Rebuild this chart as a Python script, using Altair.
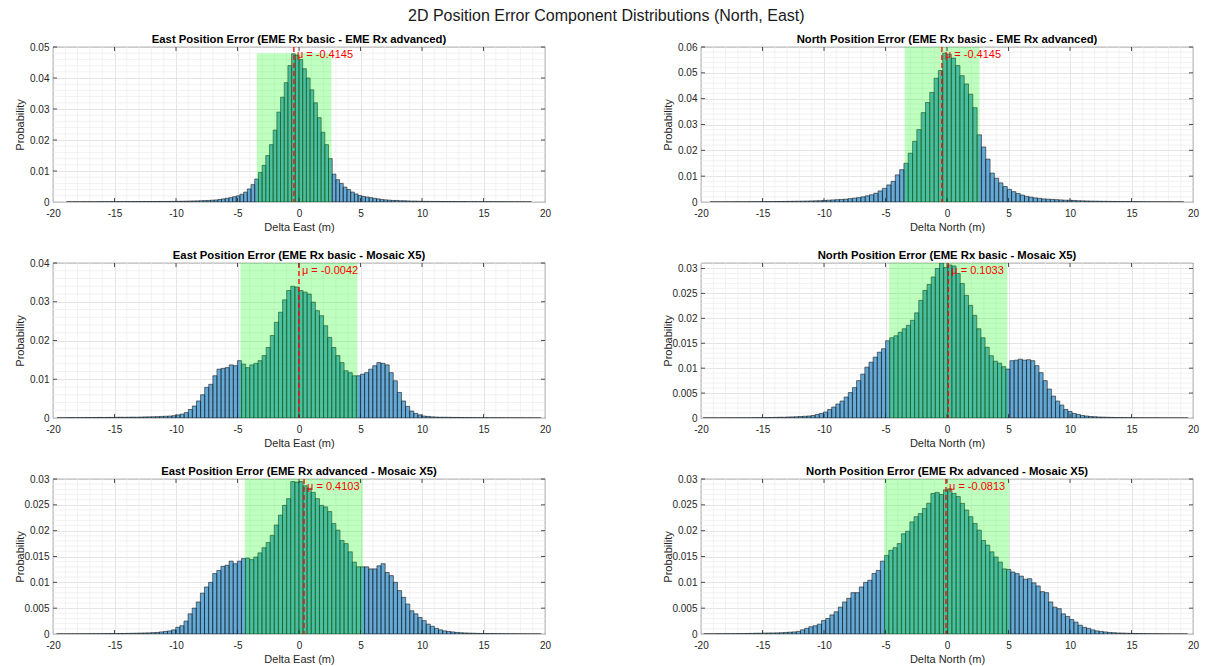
import altair as alt
import pandas as pd
import numpy as np

MAIN_TITLE = "2D Position Error Component Distributions (North, East)"
PANEL_TITLES = [
    "East Position Error (EME Rx basic - EME Rx advanced)",
    "North Position Error (EME Rx basic - EME Rx advanced)",
    "East Position Error (EME Rx basic - Mosaic X5)",
    "North Position Error (EME Rx basic - Mosaic X5)",
    "East Position Error (EME Rx advanced - Mosaic X5)",
    "North Position Error (EME Rx advanced - Mosaic X5)",
]
X_TITLES = ["Delta East (m)", "Delta North (m)", "Delta East (m)",
            "Delta North (m)", "Delta East (m)", "Delta North (m)"]

# histogram bins: first edge, bin width, probabilities
BIN_START = [-18.9, -19.25, -19.667, -19.82, -19.70, -19.78]
BIN_WIDTH = [0.3, 0.35, 0.3333, 0.337, 0.3338, 0.342]

P1 = [0.00005, 0.00004, 0.00006, 0.00005, 0.00007, 0.00006, 0.00008, 0.00007, 0.00009, 0.0001,
      0.00009, 0.0001, 0.00011, 0.0001, 0.00012, 0.00011, 0.00013, 0.00012, 0.00014, 0.00013,
      0.00015, 0.00014, 0.00016, 0.00015, 0.00017, 0.00018, 0.00017, 0.00019, 0.0002, 0.0002,
      0.00022, 0.00025, 0.00027, 0.0003, 0.00033, 0.00036, 0.0004, 0.00045, 0.0005, 0.00058,
      0.00066, 0.0008, 0.0010, 0.0012, 0.0014, 0.0017,
      0.0020, 0.0025, 0.0032, 0.0042, 0.0056, 0.0074,
      0.0095, 0.0118, 0.0150, 0.0185, 0.0232, 0.0290, 0.0338, 0.0385, 0.0440, 0.0478,
      0.0474, 0.0460, 0.0430, 0.0400, 0.0362, 0.0320, 0.0272, 0.0225, 0.0185, 0.0140, 0.0090,
      0.0072, 0.0060, 0.0048, 0.0040, 0.0032, 0.0026, 0.0021,
      0.0018, 0.0016, 0.0014, 0.0012, 0.0010, 0.0008, 0.0007, 0.0006, 0.0005, 0.0005,
      0.0004, 0.0004, 0.00035, 0.0003, 0.0003, 0.00025,
      0.00022, 0.0002, 0.0002, 0.00018, 0.00019, 0.00017, 0.00016, 0.00015, 0.00016, 0.00014,
      0.00013, 0.00014, 0.00012, 0.00011, 0.00012, 0.0001, 0.0001, 0.00009, 0.0001, 0.00008,
      0.00009, 0.00007, 0.00008, 0.00006, 0.00007, 0.00005, 0.00006, 0.00005, 0.00004, 0.00004]

P2 = [0.00004, 0.00005, 0.00004, 0.00006, 0.00005, 0.00007, 0.00008, 0.00007, 0.00009, 0.0001,
      0.00012, 0.00011, 0.00013, 0.00015, 0.00016, 0.00018, 0.0002, 0.00022, 0.00025, 0.00028,
      0.0003, 0.00033, 0.00036, 0.0004, 0.00045,
      0.0005, 0.0006, 0.0007, 0.0008, 0.0009, 0.0010, 0.0011, 0.0013, 0.0015, 0.0017,
      0.0020, 0.0024, 0.0028, 0.0034, 0.0043, 0.0053, 0.0066, 0.0080, 0.0105, 0.0125,
      0.0150, 0.0189, 0.0235, 0.0280, 0.0346, 0.0385, 0.0424, 0.0479, 0.0509,
      0.0576, 0.0572, 0.0557, 0.0528, 0.0489, 0.0457, 0.0417, 0.0365, 0.0260, 0.0213,
      0.0166, 0.0112, 0.0092, 0.0074, 0.0060, 0.0049, 0.0040, 0.0033, 0.0027, 0.0022,
      0.0019, 0.0016, 0.0014, 0.0012, 0.0011, 0.0010, 0.0009, 0.0008, 0.0007, 0.0007, 0.0006,
      0.0005, 0.00045, 0.0004, 0.00036, 0.00033, 0.0003, 0.00027, 0.00025, 0.00022, 0.0002,
      0.00018, 0.00016, 0.00015, 0.00013, 0.00012, 0.0001, 0.00009, 0.00008, 0.00007, 0.00006,
      0.00006, 0.00005, 0.00004, 0.00004, 0.00003]

P3 = [0.00005, 0.00005, 0.00008, 0.0001, 0.00008, 0.0001, 0.0001, 0.00012, 0.0001, 0.00012,
      0.00015, 0.00012, 0.00015, 0.00015, 0.00018, 0.0002, 0.00018, 0.0002, 0.00022, 0.0002,
      0.00025, 0.00028, 0.0003, 0.00032, 0.00035, 0.0004, 0.00045, 0.0005,
      0.0006, 0.0008, 0.0010, 0.0014, 0.0022, 0.0031, 0.0044, 0.0060, 0.0079, 0.0087,
      0.0109, 0.0126, 0.0128, 0.0130, 0.0137, 0.0135, 0.0148, 0.0139, 0.0130, 0.0137,
      0.0141, 0.0148, 0.0161, 0.0182, 0.0213, 0.0247, 0.0273, 0.0305, 0.0329, 0.0340,
      0.0338, 0.0329, 0.0325, 0.0320, 0.0299, 0.0277, 0.0264, 0.0238, 0.0208, 0.0182,
      0.0161, 0.0143, 0.0122, 0.0117, 0.0109, 0.0109, 0.0113, 0.0117, 0.0126, 0.0135,
      0.0143, 0.0141, 0.0137, 0.0117, 0.0096, 0.0066, 0.0044, 0.0030, 0.0018, 0.0012,
      0.0008, 0.0005, 0.0004,
      0.0003, 0.00025, 0.0002, 0.0002, 0.00018, 0.00015, 0.00015, 0.00012, 0.0001, 0.0001,
      0.0001, 0.00008, 0.00008, 0.00008, 0.00006, 0.00006, 0.00005, 0.00005, 0.00005, 0.00004,
      0.00004, 0.00004, 0.00003, 0.00003, 0.00003, 0.00002, 0.00002]

P4 = [0.00002, 0.00002, 0.00003, 0.00002, 0.00003, 0.00003, 0.00004, 0.00003, 0.00004, 0.00005,
      0.00004, 0.00005, 0.00006, 0.00006, 0.00008,
      0.0001, 0.0001, 0.00012, 0.00015, 0.00015, 0.0002, 0.00022, 0.00025, 0.0003, 0.00035,
      0.0004, 0.0005, 0.0007, 0.0009, 0.0012,
      0.0017, 0.0022, 0.0028, 0.0034, 0.0042, 0.0051, 0.0061, 0.0075, 0.0088, 0.0102,
      0.0112, 0.0122, 0.0132, 0.0139, 0.0155, 0.0161, 0.0165, 0.0172, 0.0179, 0.0186,
      0.0196, 0.0211, 0.0236, 0.0256, 0.0268, 0.0283, 0.0300, 0.0311, 0.0302, 0.0307,
      0.0305, 0.0290, 0.0270, 0.0246, 0.0226, 0.0206, 0.0179, 0.0161, 0.0142, 0.0125,
      0.0114, 0.0110, 0.0103, 0.0098, 0.0115, 0.0116, 0.0118, 0.0116, 0.0117, 0.0115,
      0.0105, 0.0091, 0.0075, 0.0058, 0.0044, 0.0034, 0.0026, 0.0017, 0.0013, 0.0009, 0.0007,
      0.0005, 0.0004, 0.0003, 0.00025, 0.0002, 0.00018, 0.00015, 0.00012, 0.0001, 0.00008,
      0.00007, 0.00006, 0.00005, 0.00005, 0.00004, 0.00004, 0.00003, 0.00003, 0.00003, 0.00002,
      0.00002, 0.00002, 0.00002, 0.00001, 0.00001, 0.00001]

P5 = [0.00002, 0.00002, 0.00002, 0.00003, 0.00003, 0.00003, 0.00004, 0.00004, 0.00005, 0.00005,
      0.00006, 0.00006, 0.00007, 0.00008, 0.00008, 0.0001, 0.0001, 0.00012, 0.00014, 0.00016,
      0.00018, 0.0002, 0.00022, 0.00026, 0.0003, 0.0004, 0.0005, 0.0006,
      0.0008, 0.0013, 0.0016, 0.0025, 0.0039, 0.0050, 0.0062, 0.0079, 0.0091, 0.0100,
      0.0117, 0.0123, 0.0131, 0.0133, 0.0141, 0.0136, 0.0141, 0.0146, 0.0147, 0.0144,
      0.0149, 0.0157, 0.0167, 0.0177, 0.0191, 0.0211, 0.0230, 0.0249, 0.0262, 0.0295,
      0.0294, 0.0295, 0.0287, 0.0282, 0.0274, 0.0262, 0.0249, 0.0246, 0.0237, 0.0214,
      0.0201, 0.0181, 0.0175, 0.0159, 0.0139, 0.0130, 0.0130, 0.0130, 0.0126, 0.0126,
      0.0132, 0.0136, 0.0119, 0.0113, 0.0100, 0.0084, 0.0071, 0.0058, 0.0045, 0.0039,
      0.0032, 0.0026, 0.0019, 0.0015, 0.0011, 0.0008, 0.0006, 0.0005, 0.0004,
      0.0003, 0.00025, 0.0002, 0.00018, 0.00015, 0.00012, 0.0001, 0.00009, 0.00008, 0.00007,
      0.00006, 0.00005, 0.00005, 0.00004, 0.00004, 0.00003, 0.00003, 0.00002, 0.00002, 0.00002,
      0.00001]

P6 = [0.00002, 0.00003, 0.00003, 0.00005, 0.00004, 0.00006, 0.00005, 0.00006, 0.00008, 0.00007,
      0.0001, 0.00012, 0.00015, 0.00015, 0.00018, 0.0002, 0.0002, 0.00022, 0.00025, 0.0003,
      0.00035, 0.0004,
      0.0005, 0.0008, 0.0011, 0.0014, 0.0016, 0.0019, 0.0026, 0.0030, 0.0037, 0.0043,
      0.0052, 0.0062, 0.0069, 0.0080, 0.0080, 0.0091, 0.0100, 0.0104, 0.0117, 0.0123,
      0.0141, 0.0152, 0.0162, 0.0167, 0.0175, 0.0194, 0.0199, 0.0217, 0.0227, 0.0233,
      0.0243, 0.0253, 0.0272, 0.0274, 0.0270, 0.0279, 0.0281, 0.0272, 0.0266, 0.0253,
      0.0240, 0.0227, 0.0214, 0.0201, 0.0181, 0.0172, 0.0159, 0.0149, 0.0139, 0.0126,
      0.0125, 0.0120, 0.0117, 0.0112, 0.0106, 0.0107, 0.0099, 0.0093, 0.0082, 0.0080,
      0.0062, 0.0052, 0.0049, 0.0039, 0.0034, 0.0028, 0.0023, 0.0017, 0.0013, 0.0011,
      0.0008, 0.0006, 0.0005,
      0.0004, 0.0003, 0.00025, 0.0002, 0.00018, 0.00015, 0.00012, 0.0001, 0.00009, 0.00008,
      0.00006, 0.00005, 0.00005, 0.00004, 0.00003, 0.00003, 0.00002, 0.00002, 0.00002, 0.00001]

HEIGHTS = [P1, P2, P3, P4, P5, P6]

MEANS = [-0.4145, -0.4145, -0.0042, 0.1033, 0.4103, -0.0813]
MU_TEXT = ["μ = -0.4145", "μ = -0.4145", "μ = -0.0042", "μ = 0.1033", "μ = 0.4103", "μ = -0.0813"]
SHADE_LO = [-3.43, -3.44, -4.76, -4.70, -4.41, -5.11]
SHADE_HI = [2.64, 2.65, 4.76, 4.91, 5.20, 5.05]
SHADE_TOP = [0.048, 0.06, 0.04, 0.0311, 0.03, 0.03]
Y_MAX = [0.05, 0.06, 0.04, 0.0311, 0.03, 0.03]
Y_TICKS = [
    [0, 0.01, 0.02, 0.03, 0.04, 0.05],
    [0, 0.01, 0.02, 0.03, 0.04, 0.05, 0.06],
    [0, 0.01, 0.02, 0.03, 0.04],
    [0, 0.005, 0.01, 0.015, 0.02, 0.025, 0.03],
    [0, 0.005, 0.01, 0.015, 0.02, 0.025, 0.03],
    [0, 0.005, 0.01, 0.015, 0.02, 0.025, 0.03],
]
Y_MINOR = [0.002, 0.002, 0.002, 0.001, 0.001, 0.001]
X_TICKS = [-20, -15, -10, -5, 0, 5, 10, 15, 20]
# panel title offsets (the top tick label of panel 4 sits below the frame)
TITLE_OFFSET = [-3, -3, -3, 1, -3, -3]

W, H = 492, 155
FONT = "Liberation Sans"
AX = "#262626"


def panel(i):
    e0, w, hs = BIN_START[i], BIN_WIDTH[i], HEIGHTS[i]
    n = len(hs)
    bars = pd.DataFrame({
        "lo": [e0 + k * w for k in range(n)],
        "hi": [e0 + (k + 1) * w for k in range(n)],
        "p": hs,
        "z": [0.0] * n,
    })
    xs = alt.Scale(domain=[-20, 20], nice=False, zero=False)
    ys = alt.Scale(domain=[0, Y_MAX[i]], nice=False, zero=False)
    xa = alt.Axis(values=X_TICKS, title=X_TITLES[i], grid=True, ticks=False, domain=False,
                  labelExpr="'' + datum.value", labelPadding=6, titlePadding=3,
                  labelFlush=False)
    ya = alt.Axis(values=Y_TICKS[i], title="Probability", grid=True, ticks=False, domain=False,
                  labelExpr="'' + datum.value", labelPadding=4, titlePadding=4,
                  minExtent=24, maxExtent=24, labelFlush=False)

    def X(f):
        return alt.X(f, type="quantitative", scale=xs, axis=xa)

    def Y(f):
        return alt.Y(f, type="quantitative", scale=ys, axis=ya)

    xminor = [v for v in range(-19, 20) if v % 5 != 0]
    ystep = Y_MINOR[i]
    nmin = int(round(Y_MAX[i] / ystep))
    yminor = [round(k * ystep, 6) for k in range(1, nmin + 1)
              if round(k * ystep, 6) not in Y_TICKS[i] and k * ystep < Y_MAX[i]]

    gx = alt.Chart(pd.DataFrame({"v": xminor})).mark_rule(
        color="#ececec", strokeWidth=0.7).encode(x=X("v"))
    gy = alt.Chart(pd.DataFrame({"v": yminor})).mark_rule(
        color="#ececec", strokeWidth=0.7).encode(y=Y("v"))

    hist = alt.Chart(bars).mark_rect(
        fill="#0072BD", fillOpacity=0.6, stroke="#1a1a1a", strokeWidth=0.6, clip=True
    ).encode(x=X("lo"), x2=alt.X2("hi"), y=Y("p"), y2=alt.Y2("z"))

    mline = alt.Chart(pd.DataFrame({"m": [MEANS[i]]})).mark_rule(
        color="#ff0000", strokeDash=[5, 3], strokeWidth=1.3).encode(x=X("m"))

    shade = alt.Chart(pd.DataFrame({
        "a": [SHADE_LO[i]], "b": [SHADE_HI[i]], "z": [0.0], "t": [SHADE_TOP[i]]
    })).mark_rect(color="#00ff00", opacity=0.25).encode(
        x=X("a"), x2=alt.X2("b"), y=Y("z"), y2=alt.Y2("t"))

    label = alt.Chart(pd.DataFrame({
        "m": [MEANS[i]], "ty": [0.95 * Y_MAX[i]], "s": [MU_TEXT[i]]
    })).mark_text(align="left", baseline="middle", dx=3, color="#ff0000",
                  fontSize=11, font=FONT).encode(x=X("m"), y=Y("ty"), text="s:N")

    tx = pd.DataFrame({"v": X_TICKS[1:-1]})
    ty = pd.DataFrame({"v": Y_TICKS[i][1:]})
    tb = alt.Chart(tx).mark_rule(color=AX, strokeWidth=0.8).encode(
        x=X("v"), y=alt.value(H), y2=alt.value(H - 4))
    tt = alt.Chart(tx).mark_rule(color=AX, strokeWidth=0.8).encode(
        x=X("v"), y=alt.value(0), y2=alt.value(4))
    tl = alt.Chart(ty).mark_rule(color=AX, strokeWidth=0.8).encode(
        y=Y("v"), x=alt.value(0), x2=alt.value(4))
    tr = alt.Chart(ty).mark_rule(color=AX, strokeWidth=0.8).encode(
        y=Y("v"), x=alt.value(W), x2=alt.value(W - 4))

    return alt.layer(gx, gy, hist, shade, mline, label, tb, tt, tl, tr).properties(
        width=W, height=H,
        title=alt.TitleParams(PANEL_TITLES[i], offset=TITLE_OFFSET[i]))


rows = [alt.hconcat(panel(2 * r), panel(2 * r + 1), spacing=110) for r in range(3)]
chart = alt.vconcat(*rows, spacing=16).properties(
    title=alt.TitleParams(MAIN_TITLE, fontSize=16, fontWeight="normal", anchor="middle",
                          color="#1a1a1a", font=FONT, offset=9),
    padding={"left": 13, "top": 8, "right": 5, "bottom": 2},
).configure_view(stroke=AX, strokeWidth=0.8).configure_axis(
    labelFont=FONT, labelFontSize=10, labelColor=AX,
    titleFont=FONT, titleFontSize=11, titleFontWeight="normal", titleColor=AX,
    gridColor="#dedede", gridWidth=0.8,
).configure_title(font=FONT, fontSize=11.3, fontWeight="bold", color="#000000")

chart.save("out.html", embed_options={"renderer": "svg", "actions": False})
